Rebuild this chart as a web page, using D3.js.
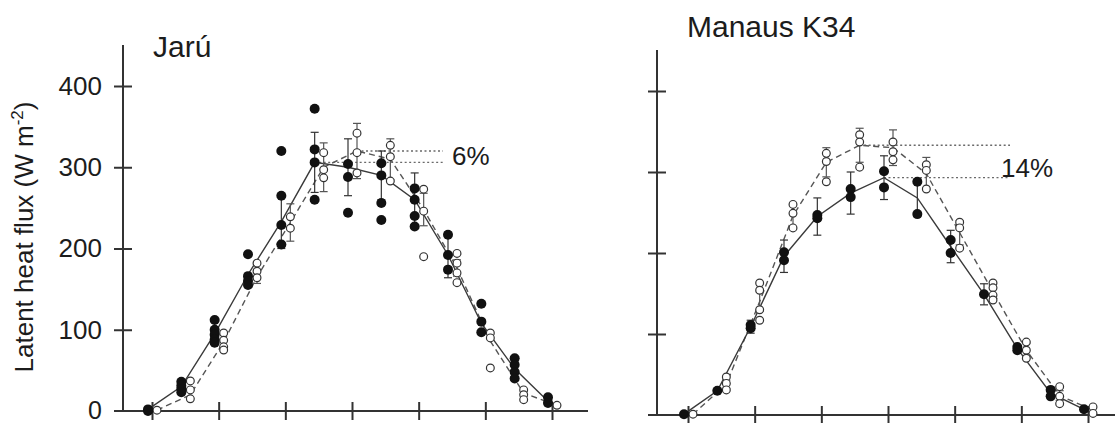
<!DOCTYPE html>
<html><head><meta charset="utf-8">
<script src="https://cdn.jsdelivr.net/npm/d3@7"></script>
<style>
body{margin:0;background:#fff}
svg{display:block}
text{font-family:"Liberation Sans", Arial, Helvetica, sans-serif; fill:#1c1c1c}
</style>
</head><body>
<svg id="c" width="1119" height="423"></svg>
<script>
// ---------- data ----------
const hours = [6,7,8,9,10,11,12,13,14,15,16,17,18];
const xTicks = [6,8,10,12,14,16,18];
const yTicks = [0,100,200,300,400];
const yTickLabels = ["0","100","200","300","400"];
const panelTitles = ["Jarú", "Manaus K34"];
const yAxisLabelMain = "Latent heat flux (W m";
const yAxisLabelSup = "-2";
const diffLabels = ["6%", "14%"];

// Jarú (filled = solid line, open = dashed line)
const jaruFilledPts = [[0,2],[36,31,27,23],[112,100,94,88,84],[193,166,160,155],[320,265,229,205],[372,322,306,260],[304,288,244],[305,290,256,235],[274,260,240,227],[217,192,174],[132,110,97],[65,57,48,40],[17,10]];
const jaruFilledMean = [2,30,95,168,233,306,300,290,260,192,108,52,12];
const jaruFilledSd   = [0,0,0,0,33,37,35,30,33,28,0,0,0];
const jaruOpenPts = [[1],[37,26,15],[96,87,79,75],[182,172,164],[239,225],[318,297,287],[342,318,293],[327,313,283],[273,246,190],[194,182,170,158],[96,90,53],[26,20,14],[7]];
const jaruOpenMean = [1,20,85,165,232,300,320,310,248,176,86,22,7];
const jaruOpenSd   = [0,0,0,8,23,30,34,25,20,10,0,0,0];

// Manaus K34
const manFilledPts = [[1],[30],[111,107],[201,191],[247,243],[279,269],[301,281],[288,248],[216,200],[149],[84,80],[31,23],[7]];
const manFilledMean = [1,30,109,196,245,274,293,268,208,149,82,27,7];
const manFilledSd   = [0,0,8,20,23,26,27,23,20,13,0,0,0];
const manOpenPts = [[1],[47,39,31],[163,154,130,117],[260,249,231],[323,313,288],[346,337,306],[337,325,315],[309,302,279],[238,231,206],[163,157,148,142],[90,80,70],[35,23,14],[10,2]];
const manOpenMean = [1,38,140,246,312,333,330,298,225,152,80,24,6];
const manOpenSd   = [0,5,12,15,18,21,22,20,15,10,8,6,0];

// ---------- layout ----------
const panels = [
  {title: panelTitles[0], fPts: jaruFilledPts, fMean: jaruFilledMean, fSd: jaruFilledSd,
   oPts: jaruOpenPts, oMean: jaruOpenMean, oSd: jaruOpenSd,
   xr: [152,552], yr: [411,86], axX: 123, axTop: 45, xaFrom: 114, xaTo: 588,
   titleX: 153, titleY: 57, labels: true, dotEnd: 443, diff: diffLabels[0], diffX: 452, diffY: 165},
  {title: panelTitles[1], fPts: manFilledPts, fMean: manFilledMean, fSd: manFilledSd,
   oPts: manOpenPts, oMean: manOpenMean, oSd: manOpenSd,
   xr: [688,1088], yr: [415,91], axX: 657, axTop: 50, xaFrom: 648, xaTo: 1115,
   titleX: 687, titleY: 37, labels: false, dotEnd: 1010, diff: diffLabels[1], diffX: 1001, diffY: 177}
];
const FOFF = -4, OOFF = 5;   // horizontal offsets of filled / open symbols (px)
const axisColor = "#333";

const svg = d3.select("#c");

panels.forEach(p => {
  const x = d3.scaleLinear().domain([6,18]).range(p.xr);
  const y = d3.scaleLinear().domain([0,400]).range(p.yr);
  const g = svg.append("g");

  // axes lines
  g.append("line").attr("x1", p.axX).attr("x2", p.axX).attr("y1", p.axTop).attr("y2", y(0))
    .attr("stroke", axisColor).attr("stroke-width", 2);
  g.append("line").attr("x1", p.xaFrom).attr("x2", p.xaTo).attr("y1", y(0)).attr("y2", y(0))
    .attr("stroke", axisColor).attr("stroke-width", 2);

  // y axis ticks (crossing)
  const ya = d3.axisLeft(y).tickValues(yTicks.slice(1)).tickSize(9).tickSizeOuter(0).tickPadding(12)
    .tickFormat((d,i) => p.labels ? yTickLabels[i+1] : "");
  const yg = g.append("g").attr("transform", `translate(${p.axX},0)`).call(ya);
  yg.select(".domain").remove();
  yg.selectAll(".tick line").attr("x1", 9).attr("x2", -9).attr("stroke", axisColor).attr("stroke-width", 2);
  yg.selectAll(".tick text").attr("font-size", 26).attr("fill", "#1c1c1c")
    .attr("font-family", '"Liberation Sans", Arial, sans-serif');
  if (p.labels) {
    g.append("text").attr("x", p.axX - 21).attr("y", y(0) + 8)
      .attr("text-anchor", "end").attr("font-size", 25).text(yTickLabels[0]);
  }

  // x axis ticks (crossing)
  const xa = d3.axisBottom(x).tickValues(xTicks).tickSize(9).tickSizeOuter(0).tickFormat("");
  const xg = g.append("g").attr("transform", `translate(0,${y(0)})`).call(xa);
  xg.select(".domain").remove();
  xg.selectAll(".tick line").attr("y1", -9).attr("y2", 9).attr("stroke", axisColor).attr("stroke-width", 2);

  // title
  g.append("text").attr("x", p.titleX).attr("y", p.titleY).attr("font-size", 30).text(p.title);

  const fData = hours.map((h,i) => ({h, m: p.fMean[i], sd: p.fSd[i], pts: p.fPts[i]}));
  const oData = hours.map((h,i) => ({h, m: p.oMean[i], sd: p.oSd[i], pts: p.oPts[i]}));

  // percentage dotted lines
  const fPeak = fData.reduce((a,b) => b.m > a.m ? b : a);
  const oPeak = oData.reduce((a,b) => b.m > a.m ? b : a);
  [[oPeak, OOFF], [fPeak, FOFF]].forEach(([pk, off]) => {
    g.append("line").attr("x1", x(pk.h) + off).attr("x2", p.dotEnd)
      .attr("y1", y(pk.m)).attr("y2", y(pk.m))
      .attr("stroke", "#6a6a6a").attr("stroke-width", 1.3).attr("stroke-dasharray", "2,2.5");
  });
  g.append("text").attr("x", p.diffX).attr("y", p.diffY).attr("font-size", 26).text(p.diff);

  // mean lines
  g.append("path").datum(oData)
    .attr("d", d3.line().x(d => x(d.h) + OOFF).y(d => y(d.m)))
    .attr("fill", "none").attr("stroke", "#555").attr("stroke-width", 1.4).attr("stroke-dasharray", "6,4");
  g.append("path").datum(fData)
    .attr("d", d3.line().x(d => x(d.h) + FOFF).y(d => y(d.m)))
    .attr("fill", "none").attr("stroke", "#3a3a3a").attr("stroke-width", 1.4);

  // error bars
  function errBars(data, off, color) {
    const eb = g.append("g").attr("stroke", color).attr("stroke-width", 1.2);
    data.filter(d => d.sd > 0).forEach(d => {
      const cx = x(d.h) + off;
      eb.append("line").attr("x1", cx).attr("x2", cx).attr("y1", y(d.m - d.sd)).attr("y2", y(d.m + d.sd));
      [d.m - d.sd, d.m + d.sd].forEach(v => {
        eb.append("line").attr("x1", cx - 4).attr("x2", cx + 4).attr("y1", y(v)).attr("y2", y(v));
      });
    });
  }
  errBars(oData, OOFF, "#555");
  errBars(fData, FOFF, "#333");

  // open points
  const oFlat = oData.flatMap(d => d.pts.map(v => ({h: d.h, v})));
  g.append("g").selectAll("circle").data(oFlat).join("circle")
    .attr("cx", d => x(d.h) + OOFF).attr("cy", d => y(d.v)).attr("r", 3.9)
    .attr("fill", "#fff").attr("stroke", "#333").attr("stroke-width", 1.2);
  // filled points
  const fFlat = fData.flatMap(d => d.pts.map(v => ({h: d.h, v})));
  g.append("g").selectAll("circle").data(fFlat).join("circle")
    .attr("cx", d => x(d.h) + FOFF).attr("cy", d => y(d.v)).attr("r", 5)
    .attr("fill", "#111");
});

// y-axis label
svg.append("text").attr("transform", "translate(33,237) rotate(-90)")
  .attr("text-anchor", "middle").attr("font-size", 26)
  .call(t => {
    t.append("tspan").text(yAxisLabelMain);
    t.append("tspan").attr("dy", -10).attr("font-size", 17).text(yAxisLabelSup);
    t.append("tspan").attr("dy", 10).text(")");
  });
</script>
</body></html>
